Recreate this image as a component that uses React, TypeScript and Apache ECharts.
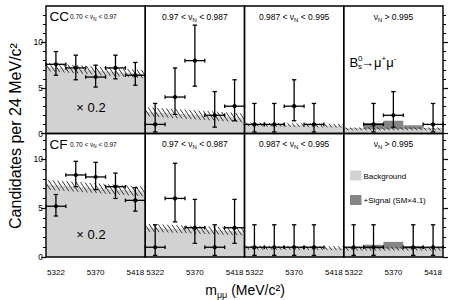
import React, { useEffect, useRef } from 'react';
import * as echarts from 'echarts';

const FONT = "'Liberation Sans', Arial, Helvetica, sans-serif";

// ---------- data ----------
const massMin = 5310;
const massMax = 5430;
const binHalf = 12;
const binCenters = [5322, 5346, 5370, 5394, 5418];
const xTickLabels = [5322, 5370, 5418];
const yMajorTicks = [0, 5, 10];
const yMinorTicksTop = [1, 2, 3, 4, 6, 7, 8, 9, 11, 12, 13];
const yMinorTicksBottom = [1, 2, 3, 4, 6, 7, 8, 9, 11, 12];
const rowNames = ['CC', 'CF'];
const nnRanges = ['0.70 < ν', '0.97 < ν', '0.987 < ν', 'ν'];
const nnRangeEnds = [' < 0.97', ' < 0.987', ' < 0.995', ' > 0.995'];

// CC row (panel 1 scaled by 0.2)
const ccCounts1 = [7.6, 7.2, 6.2, 7.2, 6.4];
const ccLow1 = [6.4, 5.9, 5.1, 6.0, 5.3];
const ccHigh1 = [9.0, 8.6, 7.5, 8.6, 7.8];
const ccCounts2 = [1, 4, 8, 2, 3];
const ccLow2 = [0.17, 2.1, 5.2, 0.7, 1.4];
const ccHigh2 = [3.3, 7.2, 11.9, 4.6, 5.9];
const ccCounts3 = [1, 1, 3, 1, null];
const ccLow3 = [0.17, 0.17, 1.4, 0.17, null];
const ccHigh3 = [3.3, 3.3, 5.9, 3.3, null];
const ccCounts4 = [null, 1, 2, null, 1];
const ccLow4 = [null, 0.17, 0.7, null, 0.17];
const ccHigh4 = [null, 3.3, 4.6, null, 3.3];

// CF row (panel 1 scaled by 0.2)
const cfCounts1 = [5.2, 8.4, 8.2, 7.2, 5.8];
const cfLow1 = [4.2, 7.2, 6.9, 6.0, 4.7];
const cfHigh1 = [6.4, 9.8, 9.7, 8.6, 7.1];
const cfCounts2 = [1, 6, 3, 1, 3];
const cfLow2 = [0.17, 3.6, 1.4, 0.17, 1.4];
const cfHigh2 = [3.3, 9.6, 5.9, 3.3, 5.9];
const cfCounts3 = [1, 1, 1, 1, null];
const cfLow3 = [0.17, 0.17, 0.17, 0.17, null];
const cfHigh3 = [3.3, 3.3, 3.3, 3.3, null];
const cfCounts4 = [1, 1, null, 1, 1];
const cfLow4 = [0.17, 0.17, null, 0.17, 0.17];
const cfHigh4 = [3.3, 3.3, null, 3.3, 3.3];

// background expectation: value at left edge, right edge, and uncertainty
const ccBgLeft = [7.3, 2.4, 1.0, 0.5];
const ccBgRight = [6.5, 1.7, 0.85, 0.5];
const ccBgErr = [0.45, 0.5, 0.2, 0.15];
const cfBgLeft = [7.4, 3.0, 0.95, 0.85];
const cfBgRight = [6.7, 2.6, 0.9, 0.85];
const cfBgErr = [0.5, 0.4, 0.2, 0.2];

// background + signal (SM x 4.1) in highest NN bin
const ccSignalTop = [0.55, 1.15, 1.4, 0.9, 0.55];
const cfSignalTop = [0.9, 1.25, 1.55, 1.1, 0.9];

// ---------- layout ----------
const LEFT0 = 46;
const PANEL_W = 99.25;
const ROW_TOP = [6, 133.5];
const ROW_H = [127.5, 123.5];
const ROW_YMAX = [14, 12.65];
const LIGHT = '#d2d2d2';
const DARK = '#858585';

const counts = [
  [ccCounts1, ccCounts2, ccCounts3, ccCounts4],
  [cfCounts1, cfCounts2, cfCounts3, cfCounts4],
];
const lows = [
  [ccLow1, ccLow2, ccLow3, ccLow4],
  [cfLow1, cfLow2, cfLow3, cfLow4],
];
const highs = [
  [ccHigh1, ccHigh2, ccHigh3, ccHigh4],
  [cfHigh1, cfHigh2, cfHigh3, cfHigh4],
];
const bgL = [ccBgLeft, cfBgLeft];
const bgR = [ccBgRight, cfBgRight];
const bgE = [ccBgErr, cfBgErr];
const sigTop = [ccSignalTop, cfSignalTop];

function buildOption() {
  const grid: any[] = [];
  const xAxis: any[] = [];
  const yAxis: any[] = [];
  const series: any[] = [];
  const graphic: any[] = [];

  for (let r = 0; r < 2; r++) {
    for (let c = 0; c < 4; c++) {
      const gi = r * 4 + c;
      const left = LEFT0 + c * PANEL_W;
      grid.push({ left, top: ROW_TOP[r], width: PANEL_W, height: ROW_H[r], show: false });
      xAxis.push({
        gridIndex: gi,
        type: 'value',
        min: massMin,
        max: massMax,
        axisLine: { show: false },
        splitLine: { show: false },
        axisTick: { show: true, inside: true, length: 4, customValues: binCenters, lineStyle: { color: '#000', width: 1.2 } },
        axisLabel: {
          show: r === 1, customValues: xTickLabels, fontSize: 8, margin: 11, color: '#000', fontFamily: FONT,
          formatter: (v: number) => String(v),
        },
      });
      const ymax = ROW_YMAX[r];
      const baseIndex = yAxis.length;
      if (c === 0 || c === 3) {
        const pos = c === 0 ? 'left' : 'right';
        yAxis.push({
          gridIndex: gi, type: 'value', min: 0, max: ymax, position: pos,
          axisLine: { show: false }, splitLine: { show: false },
          axisTick: { show: true, inside: false, length: 5, customValues: yMajorTicks, lineStyle: { color: '#000', width: 1.2 } },
          axisLabel: { show: c === 0, customValues: yMajorTicks, fontSize: 8.5, margin: 3, color: '#000', fontFamily: FONT },
        });
        yAxis.push({
          gridIndex: gi, type: 'value', min: 0, max: ymax, position: pos,
          axisLine: { show: false }, splitLine: { show: false },
          axisTick: { show: true, inside: false, length: 3, customValues: r === 0 ? yMinorTicksTop : yMinorTicksBottom, lineStyle: { color: '#000', width: 1 } },
          axisLabel: { show: false },
        });
      } else {
        yAxis.push({ gridIndex: gi, type: 'value', min: 0, max: ymax, show: false });
      }

      // background fill
      const bgData = [[massMin, bgL[r][c], bgR[r][c], bgE[r][c]]];
      series.push({
        type: 'custom', xAxisIndex: gi, yAxisIndex: baseIndex, z: 2, silent: true,
        data: bgData, encode: { x: 0, y: 1 },
        renderItem: (params: any, api: any) => {
          const l = api.value(1), rr = api.value(2);
          const a = api.coord([massMin, 0]);
          const b = api.coord([massMax, 0]);
          const pl = api.coord([massMin, l]);
          const pr = api.coord([massMax, rr]);
          return {
            type: 'polygon',
            shape: { points: [[a[0], a[1]], [b[0], b[1]], [pr[0], pr[1]], [pl[0], pl[1]]] },
            style: { fill: LIGHT, stroke: 'none' },
          };
        },
      });

      // signal on top of background
      if (c === 3) {
        const sd = binCenters.map((x, i) => [x, bgL[r][c] + (bgR[r][c] - bgL[r][c]) * (x - massMin) / (massMax - massMin), sigTop[r][i]]);
        series.push({
          type: 'custom', xAxisIndex: gi, yAxisIndex: baseIndex, z: 3, silent: true,
          data: sd, encode: { x: 0, y: 2 },
          renderItem: (params: any, api: any) => {
            const x = api.value(0), base = api.value(1), top = api.value(2);
            if (top <= base) return { type: 'group', children: [] };
            const p1 = api.coord([x - binHalf, top]);
            const p2 = api.coord([x + binHalf, base]);
            return {
              type: 'rect',
              shape: { x: p1[0], y: p1[1], width: p2[0] - p1[0], height: p2[1] - p1[1] },
              style: { fill: DARK, stroke: 'none' },
            };
          },
        });
      }

      // hatched uncertainty band
      series.push({
        type: 'custom', xAxisIndex: gi, yAxisIndex: baseIndex, z: 4, silent: true,
        data: bgData, encode: { x: 0, y: 1 },
        renderItem: (params: any, api: any) => {
          const l = api.value(1), rr = api.value(2), e = api.value(3);
          const tl = api.coord([massMin, l + e]);
          const tr = api.coord([massMax, rr + e]);
          const bl = api.coord([massMin, Math.max(0, l - e)]);
          const br = api.coord([massMax, Math.max(0, rr - e)]);
          const x0 = tl[0], x1 = tr[0];
          const yt = (x: number) => tl[1] + (tr[1] - tl[1]) * (x - x0) / (x1 - x0);
          const yb = (x: number) => bl[1] + (br[1] - bl[1]) * (x - x0) / (x1 - x0);
          const thick = (bl[1] - tl[1] + br[1] - tr[1]) / 2;
          const d = Math.max(3, thick * 0.7);
          const children: any[] = [];
          for (let xs = x0 - d; xs < x1; xs += 4.6) {
            const sx = xs, sy = yt(xs);
            const ex = xs + d, ey = yb(xs + d);
            const tMin = Math.max(0, (x0 - sx) / d);
            const tMax = Math.min(1, (x1 - sx) / d);
            if (tMax <= tMin) continue;
            children.push({
              type: 'line',
              shape: {
                x1: sx + (ex - sx) * tMin, y1: sy + (ey - sy) * tMin,
                x2: sx + (ex - sx) * tMax, y2: sy + (ey - sy) * tMax,
              },
              style: { stroke: '#222', lineWidth: 0.9 },
            });
          }
          return { type: 'group', children };
        },
      });

      // data points
      const pts: any[] = [];
      counts[r][c].forEach((v: any, i: number) => {
        if (v !== null) pts.push([binCenters[i], v, lows[r][c][i], highs[r][c][i]]);
      });
      series.push({
        type: 'custom', xAxisIndex: gi, yAxisIndex: baseIndex, z: 6, silent: true,
        data: pts, encode: { x: 0, y: 1 },
        renderItem: (params: any, api: any) => {
          const x = api.value(0), y = api.value(1), lo = api.value(2), hi = api.value(3);
          const pc = api.coord([x, y]);
          const pl = api.coord([x - binHalf, y]);
          const pr = api.coord([x + binHalf, y]);
          const plo = api.coord([x, lo]);
          const phi = api.coord([x, hi]);
          const st = { stroke: '#000', lineWidth: 1.3 };
          const cw = 2.2;
          return {
            type: 'group',
            children: [
              { type: 'line', shape: { x1: pc[0], y1: plo[1], x2: pc[0], y2: phi[1] }, style: st },
              { type: 'line', shape: { x1: pc[0] - cw, y1: plo[1], x2: pc[0] + cw, y2: plo[1] }, style: st },
              { type: 'line', shape: { x1: pc[0] - cw, y1: phi[1], x2: pc[0] + cw, y2: phi[1] }, style: st },
              { type: 'line', shape: { x1: pl[0], y1: pc[1], x2: pr[0], y2: pc[1] }, style: st },
              { type: 'line', shape: { x1: pl[0], y1: pc[1] - 1.8, x2: pl[0], y2: pc[1] + 1.8 }, style: st },
              { type: 'line', shape: { x1: pr[0], y1: pc[1] - 1.8, x2: pr[0], y2: pc[1] + 1.8 }, style: st },
              { type: 'circle', shape: { cx: pc[0], cy: pc[1], r: 2.1 }, style: { fill: '#000' } },
            ],
          };
        },
      });

      // panel frame
      graphic.push({
        type: 'rect', z: 100, silent: true,
        shape: { x: left, y: ROW_TOP[r], width: PANEL_W, height: ROW_H[r] },
        style: { fill: 'none', stroke: '#000', lineWidth: 1.4 },
      });

      // NN range label
      const fs = c === 0 ? 6.5 : 8.5;
      const lx = c === 0 ? 70 : left + PANEL_W / 2;
      graphic.push({
        type: 'text', z: 101, silent: true,
        x: lx, y: ROW_TOP[r] + 10.5,
        style: {
          text: `{a|${nnRanges[c]}}{s|N}{a|${nnRangeEnds[c]}}`,
          align: c === 0 ? 'left' : 'center', verticalAlign: 'middle',
          rich: {
            a: { fontSize: fs, fontFamily: FONT, fill: '#000', lineHeight: fs + 4 },
            s: { fontSize: fs * 0.7, fontFamily: FONT, fill: '#000', lineHeight: fs * 0.7, verticalAlign: 'bottom' },
          },
        },
      });
    }

    // row name
    graphic.push({
      type: 'text', z: 101, silent: true, x: 49.5, y: ROW_TOP[r] + 10.5,
      style: { text: rowNames[r], fontSize: 13.5, fontFamily: FONT, fill: '#000', align: 'left', verticalAlign: 'middle' },
    });
    // scale note
    graphic.push({
      type: 'text', z: 101, silent: true, x: 91, y: ROW_TOP[r] + 101,
      style: { text: '× 0.2', fontSize: 13, fontFamily: FONT, fill: '#000', align: 'center', verticalAlign: 'middle' },
    });
  }

  // decay label
  graphic.push(
    { type: 'text', z: 101, silent: true, x: 349.5, y: 62, style: { text: 'B', fontSize: 13, fontFamily: FONT, fill: '#000', align: 'left', verticalAlign: 'middle' } },
    { type: 'text', z: 101, silent: true, x: 358, y: 58, style: { text: '0', fontSize: 8, fontFamily: FONT, fill: '#000', align: 'left', verticalAlign: 'middle' } },
    { type: 'text', z: 101, silent: true, x: 358, y: 66.5, style: { text: 's', fontSize: 8, fontFamily: FONT, fill: '#000', align: 'left', verticalAlign: 'middle' } },
    {
      type: 'text', z: 101, silent: true, x: 361, y: 62,
      style: {
        text: '{a|→μ}{p|+}{a|μ}{p|-}', align: 'left', verticalAlign: 'middle',
        rich: {
          a: { fontSize: 13, fontFamily: FONT, fill: '#000', lineHeight: 16 },
          p: { fontSize: 8, fontFamily: FONT, fill: '#000', lineHeight: 9, verticalAlign: 'top' },
        },
      },
    },
  );

  // legend
  graphic.push(
    { type: 'rect', z: 101, silent: true, shape: { x: 350, y: 170.5, width: 11.5, height: 10 }, style: { fill: LIGHT } },
    { type: 'text', z: 101, silent: true, x: 363.5, y: 176, style: { text: 'Background', fontSize: 8, fontFamily: FONT, fill: '#000', align: 'left', verticalAlign: 'middle' } },
    { type: 'rect', z: 101, silent: true, shape: { x: 350, y: 195, width: 11.5, height: 10 }, style: { fill: DARK } },
    { type: 'text', z: 101, silent: true, x: 363.5, y: 200.5, style: { text: '+Signal (SM×4.1)', fontSize: 8, fontFamily: FONT, fill: '#000', align: 'left', verticalAlign: 'middle' } },
  );

  // axis titles
  graphic.push(
    {
      type: 'text', z: 101, silent: true, x: 15, y: 136, rotation: Math.PI / 2,
      style: { text: 'Candidates per 24 MeV/c²', fontSize: 16, fontFamily: FONT, fill: '#000', align: 'center', verticalAlign: 'middle' },
    },
    {
      type: 'text', z: 101, silent: true, x: 245, y: 290,
      style: {
        text: '{a|m}{s|μμ}{a| (MeV/c²)}', align: 'center', verticalAlign: 'middle',
        rich: {
          a: { fontSize: 14, fontFamily: FONT, fill: '#000', lineHeight: 18 },
          s: { fontSize: 9, fontFamily: FONT, fill: '#000', lineHeight: 9, verticalAlign: 'bottom' },
        },
      },
    },
  );

  return {
    animation: false,
    backgroundColor: '#fff',
    grid,
    xAxis,
    yAxis,
    series,
    graphic,
  };
}

export default function App() {
  const ref = useRef<HTMLDivElement>(null);
  useEffect(() => {
    const chart = echarts.init(ref.current as HTMLDivElement, null, { renderer: 'svg' });
    chart.setOption(buildOption() as any);
    return () => chart.dispose();
  }, []);
  return <div ref={ref} style={{ position: 'fixed', left: 0, top: 0, width: 467, height: 300, background: '#fff' }} />;
}
